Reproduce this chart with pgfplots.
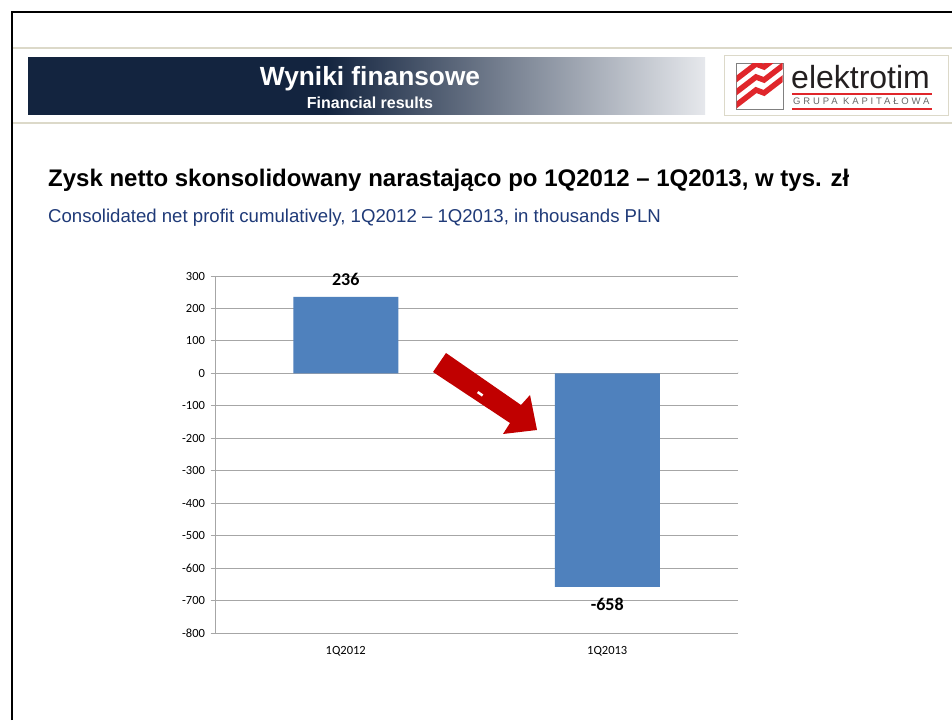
\documentclass[border=0pt]{standalone}
\usepackage{pgfplots}
\pgfplotsset{compat=1.18}
\usepackage{fontspec}
\setmainfont{Liberation Sans}
\newfontfamily\calibri{Carlito}
\definecolor{navy}{HTML}{13243F}
\definecolor{fadeend}{HTML}{E6E8EC}
\definecolor{barblue}{HTML}{4F81BD}
\definecolor{arrowred}{HTML}{C00000}
\definecolor{beige}{HTML}{DCD9C9}
\definecolor{subblue}{HTML}{1F3A78}
\definecolor{gridgray}{HTML}{A6A6A6}
\definecolor{logored}{HTML}{E0262B}
\definecolor{logotext}{HTML}{231F20}
\pgfdeclarehorizontalshading{banner}{100bp}{color(0bp)=(navy); color(47bp)=(navy); color(75bp)=(fadeend); color(100bp)=(fadeend)}
\begin{document}
\begin{tikzpicture}[x=1pt,y=1pt]
\useasboundingbox (0,0) rectangle (952,720);
\fill[white] (0,0) rectangle (952,720);
% frame
\draw[line width=2pt] (12,0) -- (12,708) -- (952,708);
\draw[beige, line width=1.2pt] (13,672) -- (952,672);
\draw[beige, line width=1.2pt] (13,597) -- (952,597);
% banner
\shade[shading=banner] (28,605) rectangle (705,662);
\node[white, font=\bfseries\fontsize{26.3}{30}\selectfont] at (370,641) {Wyniki finansowe};
\node[white, font=\bfseries\fontsize{16}{18}\selectfont] at (370,617) {Financial results};
% logo
\draw[beige, line width=1pt, fill=white] (724,604) rectangle (948,664);
\draw[gray, line width=0.8pt] (736,611) rectangle (783,657);
\begin{scope}
\clip (736.5,611.5) rectangle (782.5,656.5);
\foreach \i in {0,1,2} {
  \draw[logored, line width=5.5pt] (730,610+13*\i) -- (756,630+13*\i) -- (764,627+13*\i) -- (790,647+13*\i);
}
\end{scope}
\node[anchor=base west, inner sep=0pt, text=logotext, font=\fontsize{32}{36}\selectfont] at (791,631) {elektrotim};
\draw[logored, line width=1.5pt] (792,626) -- (932,626);
\node[anchor=base west, inner sep=0pt, text=gray!80!black, font=\fontsize{9.5}{10}\selectfont\addfontfeatures{LetterSpace=30}] at (793,615) {GRUPA KAPITAŁOWA};
\draw[logored, line width=1.5pt] (792,611) -- (932,611);
% titles
\node[anchor=base west, inner sep=0pt, font=\bfseries\fontsize{24}{27}\selectfont] at (48,533) {Zysk netto skonsolidowany narastająco po 1Q2012 – 1Q2013, w tys. zł};
\node[anchor=base west, inner sep=0pt, text=subblue, font=\fontsize{18.6}{21}\selectfont] at (48,497) {Consolidated net profit cumulatively, 1Q2012 – 1Q2013, in thousands PLN};
% chart
\begin{axis}[
  at={(215pt,87pt)}, anchor=south west,
  scale only axis, width=523pt, height=357pt,
  ybar, bar width=105pt,
  xmin=-0.5, xmax=1.5, ymin=-800, ymax=300,
  xtick={0,1}, xticklabels={1Q2012,1Q2013},
  ytick={-800,-700,...,300},
  ymajorgrids, grid style={gridgray, line width=1pt},
  axis line style={draw=none},
  x tick style={draw=none},
  y tick style={gridgray, line width=1pt},
  tick align=outside, ytick pos=left, major tick length=4.5pt,
  tick label style={font=\calibri\fontsize{12.5}{14}\selectfont},
  yticklabel style={xshift=-2pt},
  xticklabel style={yshift=-5pt},
  /pgf/number format/assume math mode=true,
  nodes near coords,
  nodes near coords align={vertical},
  every node near coord/.append style={font=\calibri\bfseries\fontsize{18}{20}\selectfont, inner sep=11pt, text=black},
]
\draw[gridgray, line width=1pt] (axis cs:-0.5,-800) -- (axis cs:-0.5,300);
\draw[gridgray, line width=1pt] (axis cs:1.5,0) -- ++(0,-5pt);
\addplot[fill=barblue, draw=none] coordinates {(0,236) (1,-658)};
\end{axis}
% arrow
\fill[arrowred] (433,348) -- (446,367) -- (521,315) -- (530,325) -- (537,290) -- (503,286) -- (510,297) -- cycle;
\fill[white, rotate around={-35:(480,326)}] (477,325) rectangle (483,327.5);
\end{tikzpicture}
\end{document}
